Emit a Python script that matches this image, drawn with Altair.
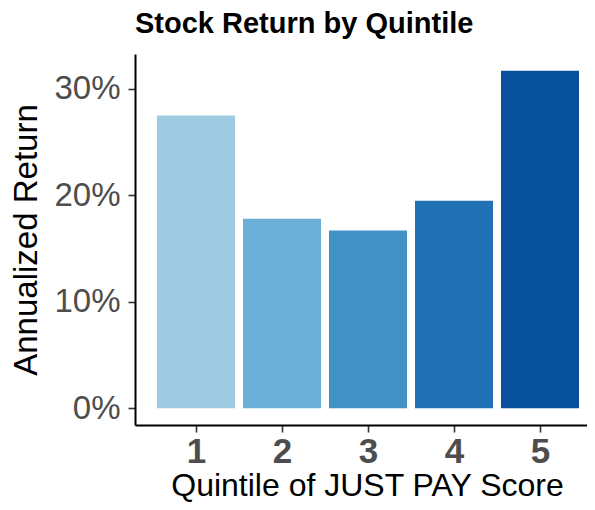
import altair as alt
import pandas as pd

quintiles = [1, 2, 3, 4, 5]
returns = [0.275, 0.178, 0.167, 0.195, 0.317]
colors = ["#9ecae1", "#6baed6", "#4292c6", "#2171b5", "#08519c"]
y_ticks = [0, 0.1, 0.2, 0.3]

df = pd.DataFrame({"q": quintiles, "r": returns, "c": colors})

ymax = max(returns)
exp = 0.05 * ymax

FONT = "Liberation Sans"

chart = alt.Chart(df).mark_bar(size=78).encode(
    x=alt.X(
        "q:Q",
        scale=alt.Scale(domain=[1 - 61 / 86, 5 + 47 / 86], nice=False, zero=False, padding=0),
        axis=alt.Axis(
            values=quintiles, format="d", title="Quintile of JUST PAY Score",
            labelFont=FONT, labelFontSize=35, labelFontWeight="bold", labelColor="#4d4d4d",
            labelBaseline="alphabetic", labelPadding=30, labelFlush=False,
            tickSize=7, tickColor="#333333", tickWidth=1.6,
            domainColor="black", domainWidth=2,
            titleFont=FONT, titleFontSize=32, titleFontWeight="normal", titleColor="black",
            titleBaseline="alphabetic", titleY=70, titleX=232, grid=False,
        ),
    ),
    y=alt.Y(
        "r:Q",
        scale=alt.Scale(domain=[-exp, ymax + exp], nice=False, zero=False, padding=0),
        axis=alt.Axis(
            values=y_ticks, format=".0%", title="Annualized Return",
            labelFont=FONT, labelFontSize=33, labelColor="#4d4d4d", labelPadding=8,
            tickSize=7, tickColor="#333333", tickWidth=1.6,
            domainColor="black", domainWidth=2,
            titleFont=FONT, titleFontSize=33, titleFontWeight="normal", titleColor="black",
            titleBaseline="alphabetic", titleX=-99, grid=False,
        ),
    ),
    y2=alt.datum(0),
    color=alt.Color("c:N", scale=None, legend=None),
).properties(
    width=452,
    height=371,
    autosize=alt.AutoSizeParams(type="none"),
    padding={"left": 127, "top": 46, "right": 0, "bottom": 77},
    background="white",
    title=alt.TitleParams(
        "Stock Return by Quintile", anchor="start", frame="group", font=FONT, fontSize=29,
        fontWeight="bold", color="black", baseline="alphabetic", offset=24, dy=32,
    ),
).configure_view(stroke=None)

chart.save("out.html", embed_options={"renderer": "svg", "actions": False})
